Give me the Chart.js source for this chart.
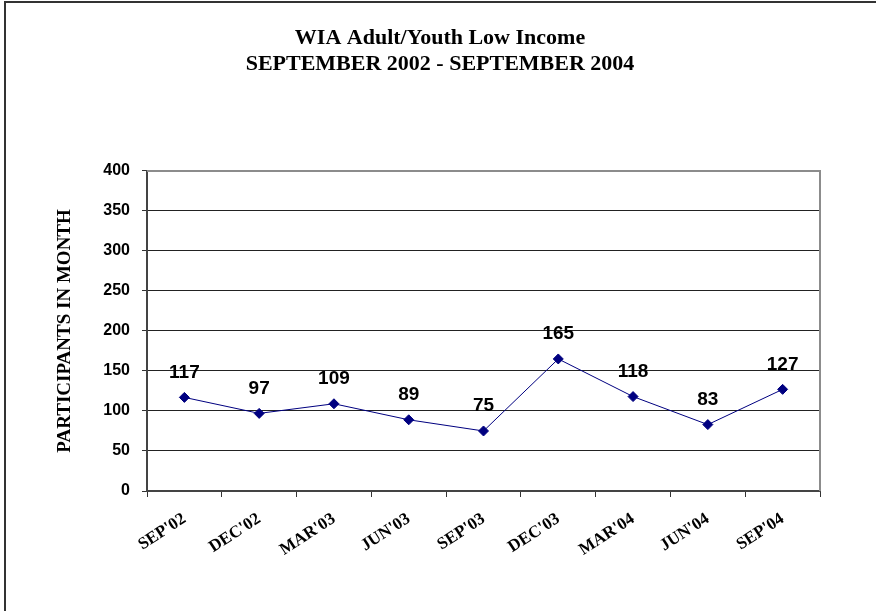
<!DOCTYPE html>
<html>
<head>
<meta charset="utf-8">
<script src="https://cdn.jsdelivr.net/npm/chart.js@4/dist/chart.umd.min.js"></script>
<style>
    body { margin: 0; background: #fff; }
    #wrap { position: relative; width: 876px; height: 611px; }
</style>
</head>
<body>
<div id="wrap"><canvas id="lineChart" width="876" height="611"></canvas></div>
<script>
// data
var months = ["SEP'02", "DEC'02", "MAR'03", "JUN'03", "SEP'03", "DEC'03", "MAR'04", "JUN'04", "SEP'04"];
var participants = [117, 97, 109, 89, 75, 165, 118, 83, 127];
var titleLines = ["WIA Adult/Youth Low Income", "SEPTEMBER 2002 - SEPTEMBER 2004"];
var yTitle = "PARTICIPANTS IN MONTH";

//- page border + plot frame -
var framePlugin = {
    id: "frame",
    beforeDraw: function(chart) {
        var ctx = chart.ctx;
        ctx.save();
        ctx.fillStyle = "#fff";
        ctx.fillRect(0, 0, chart.width, chart.height);
        ctx.strokeStyle = "#333";
        ctx.lineWidth = 2;
        ctx.beginPath();
        ctx.moveTo(5, chart.height);
        ctx.lineTo(5, 2);
        ctx.lineTo(chart.width, 2);
        ctx.stroke();
        ctx.restore();
    },
    afterDatasetsDraw: function(chart) {
        var a = chart.chartArea;
        var ctx = chart.ctx;
        ctx.save();
        ctx.strokeStyle = "#8c8c8c";
        ctx.lineWidth = 2;
        ctx.beginPath();
        ctx.moveTo(a.left, a.top);
        ctx.lineTo(a.right, a.top);
        ctx.lineTo(a.right, a.bottom);
        ctx.stroke();
        ctx.restore();
    }
};

//- value labels above points -
var valueLabels = {
    id: "valueLabels",
    afterDatasetsDraw: function(chart) {
        var ctx = chart.ctx;
        var meta = chart.getDatasetMeta(0);
        ctx.save();
        ctx.font = "bold 19px 'Liberation Sans', Arial, sans-serif";
        ctx.fillStyle = "#000";
        ctx.textAlign = "center";
        ctx.textBaseline = "middle";
        meta.data.forEach(function(pt, i) {
            ctx.fillText(chart.data.datasets[0].data[i], pt.x, pt.y - 25);
        });
        ctx.restore();
    }
};

var lineChart = new Chart(document.getElementById("lineChart").getContext("2d"), {
    type: "line",
    data: {
        labels: months,
        datasets: [{
            data: participants,
            borderColor: "#000080",
            borderWidth: 1,
            backgroundColor: "#000080",
            pointStyle: "rectRot",
            pointRadius: 5,
            pointBorderWidth: 1,
            tension: 0
        }]
    },
    options: {
        responsive: false,
        animation: false,
        layout: { padding: { left: 60, right: 56, top: 0, bottom: 0 } },
        plugins: {
            legend: { display: false },
            tooltip: { enabled: false },
            title: {
                display: true,
                text: titleLines,
                color: "#000",
                font: { family: "'Liberation Serif', 'Times New Roman', serif", size: 22, weight: "bold", lineHeight: 1.18 },
                padding: { top: 25, bottom: 94 }
            }
        },
        scales: {
            x: {
                offset: true,
                afterFit: function(scale) { scale.height = 120; },
                grid: {
                    offset: true,
                    drawOnChartArea: false,
                    tickLength: 6,
                    tickColor: "#333",
                    tickWidth: 1
                },
                border: { color: "#444", width: 2 },
                ticks: {
                    minRotation: 33,
                    maxRotation: 33,
                    padding: 12,
                    color: "#000",
                    font: { family: "'Liberation Serif', 'Times New Roman', serif", size: 17, weight: "bold" }
                }
            },
            y: {
                min: 0,
                max: 400,
                afterFit: function(scale) { scale.width = 87; },
                grid: {
                    color: "#222",
                    lineWidth: 1,
                    tickLength: 5,
                    tickColor: "#333"
                },
                border: { color: "#444", width: 2 },
                ticks: {
                    stepSize: 50,
                    padding: 12,
                    color: "#000",
                    font: { family: "'Liberation Sans', Arial, sans-serif", size: 16, weight: "bold" }
                },
                title: {
                    display: true,
                    text: yTitle,
                    color: "#000",
                    padding: { top: -6, bottom: 0 },
                    font: { family: "'Liberation Serif', 'Times New Roman', serif", size: 19, weight: "bold" }
                }
            }
        }
    },
    plugins: [framePlugin, valueLabels]
});
</script>
</body>
</html>
